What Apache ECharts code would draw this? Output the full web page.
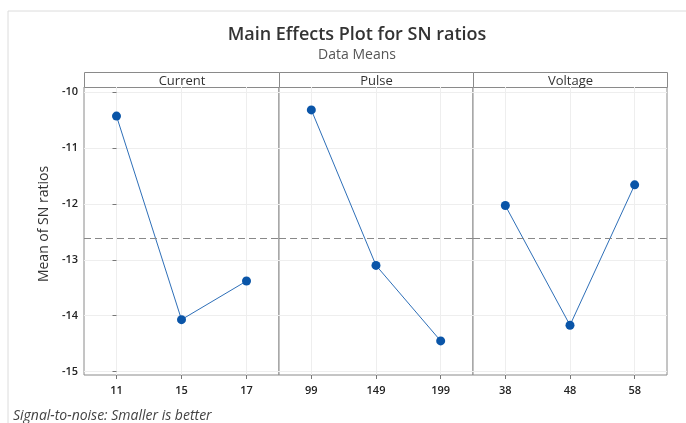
<!DOCTYPE html>
<html>
<head>
<meta charset="utf-8">
<script src="https://cdn.jsdelivr.net/npm/echarts@6/dist/echarts.min.js"></script>
<style>
  html, body { margin: 0; padding: 0; background: #fff; }
  #chart { width: 686px; height: 423px; }
</style>
</head>
<body>
<div id="chart"></div>
<script type="text/javascript">
  // factor levels and mean SN ratios
  const factors = ['Current', 'Pulse', 'Voltage'];
  const currentLevels = ['11', '15', '17'];
  const currentMeans = [-10.43, -14.07, -13.38];
  const pulseLevels = ['99', '149', '199'];
  const pulseMeans = [-10.32, -13.10, -14.45];
  const voltageLevels = ['38', '48', '58'];
  const voltageMeans = [-12.03, -14.17, -11.66];
  const grandMean = -12.62;
  const yTicks = [-15, -14, -13, -12, -11, -10];

  const levels = [currentLevels, pulseLevels, voltageLevels];
  const means = [currentMeans, pulseMeans, voltageMeans];

  const font = '"Open Sans", "Noto Sans", sans-serif';
  const panels = [
    { left: 84, width: 195 },
    { left: 279, width: 194 },
    { left: 473, width: 194 }
  ];
  const plotTop = 87, plotHeight = 288;

  const myChart = echarts.init(document.getElementById('chart'));

  const grid = [], xAxis = [], yAxis = [], series = [], graphic = [];
  panels.forEach(function (p, i) {
    const lv = levels[i];
    const idx = lv.map(function (_, k) { return k; });
    grid.push({
      left: p.left, top: plotTop, width: p.width, height: plotHeight,
      show: true, borderColor: '#8a8a8a', borderWidth: 1, backgroundColor: '#fff'
    });
    // level positions 0..n-1, half a step of padding either side
    xAxis.push({
      type: 'value', gridIndex: i, min: -0.5, max: lv.length - 0.5,
      axisLine: { show: false },
      axisTick: { show: true, length: 4, customValues: idx, lineStyle: { color: '#777' } },
      axisLabel: {
        customValues: idx, color: '#222', fontSize: 11, fontWeight: 600, fontFamily: font, margin: 10,
        formatter: function (v) { return lv[Math.round(v)]; }
      },
      splitLine: { show: true, lineStyle: { color: '#eeeeee', width: 1 } }
    });
    yAxis.push({
      type: 'value', gridIndex: i, min: -15.06, max: -9.91,
      axisLine: { show: false },
      axisTick: { show: i === 0, length: 4, customValues: yTicks, lineStyle: { color: '#777' } },
      axisLabel: { show: i === 0, customValues: yTicks, color: '#222', fontSize: 11, fontWeight: 600, fontFamily: font, margin: 6 },
      splitLine: { show: true, lineStyle: { color: '#eeeeee', width: 1 } },
      name: i === 0 ? 'Mean of SN ratios' : '',
      nameLocation: 'middle', nameGap: 33,
      nameTextStyle: { fontSize: 14, color: '#333', fontFamily: font, padding: [0, 0, 0, 14] }
    });
    series.push({
      type: 'line', xAxisIndex: i, yAxisIndex: i,
      data: means[i].map(function (v, k) { return [k, v]; }),
      symbol: 'circle', symbolSize: 9,
      itemStyle: { color: '#0a55a8' },
      lineStyle: { color: '#2e6fb8', width: 1 },
      silent: true, animation: false,
      markLine: {
        silent: true, symbol: 'none', label: { show: false },
        lineStyle: { color: '#888', type: [7, 4], width: 1 },
        data: [{ yAxis: grandMean }]
      }
    });
    graphic.push({
      type: 'group', left: p.left, top: 72,
      children: [
        { type: 'rect', shape: { x: 0, y: 0, width: p.width, height: 15 },
          style: { fill: '#fff', stroke: '#8a8a8a', lineWidth: 1 } },
        { type: 'text', x: p.width / 2, y: 8.5,
          style: { text: factors[i], fill: '#333', font: '13px ' + font,
                   textAlign: 'center', textVerticalAlign: 'middle' } }
      ]
    });
  });

  graphic.push(
    { type: 'line', shape: { x1: 8, y1: 11, x2: 686, y2: 11 }, style: { stroke: '#dcdcdc', lineWidth: 1 } },
    { type: 'line', shape: { x1: 8, y1: 11, x2: 8, y2: 423 }, style: { stroke: '#dcdcdc', lineWidth: 1 } }
  );

  const option = {
    animation: false,
    title: [
      { text: 'Main Effects Plot for SN ratios', left: 352, top: 21, textAlign: 'center',
        textStyle: { fontSize: 18, fontWeight: 600, color: '#333', fontFamily: font } },
      { text: 'Data Means', left: 352, top: 43, textAlign: 'center',
        textStyle: { fontSize: 14, fontWeight: 'normal', color: '#555', fontFamily: font } },
      { text: 'Signal-to-noise: Smaller is better', left: 8, top: 404,
        textStyle: { fontSize: 14, fontWeight: 'normal', fontStyle: 'italic', color: '#444', fontFamily: font } }
    ],
    grid: grid,
    xAxis: xAxis,
    yAxis: yAxis,
    series: series,
    graphic: graphic
  };
  myChart.setOption(option);
  window.addEventListener('resize', function () {
    myChart.resize();
  });
</script>
</body>
</html>
